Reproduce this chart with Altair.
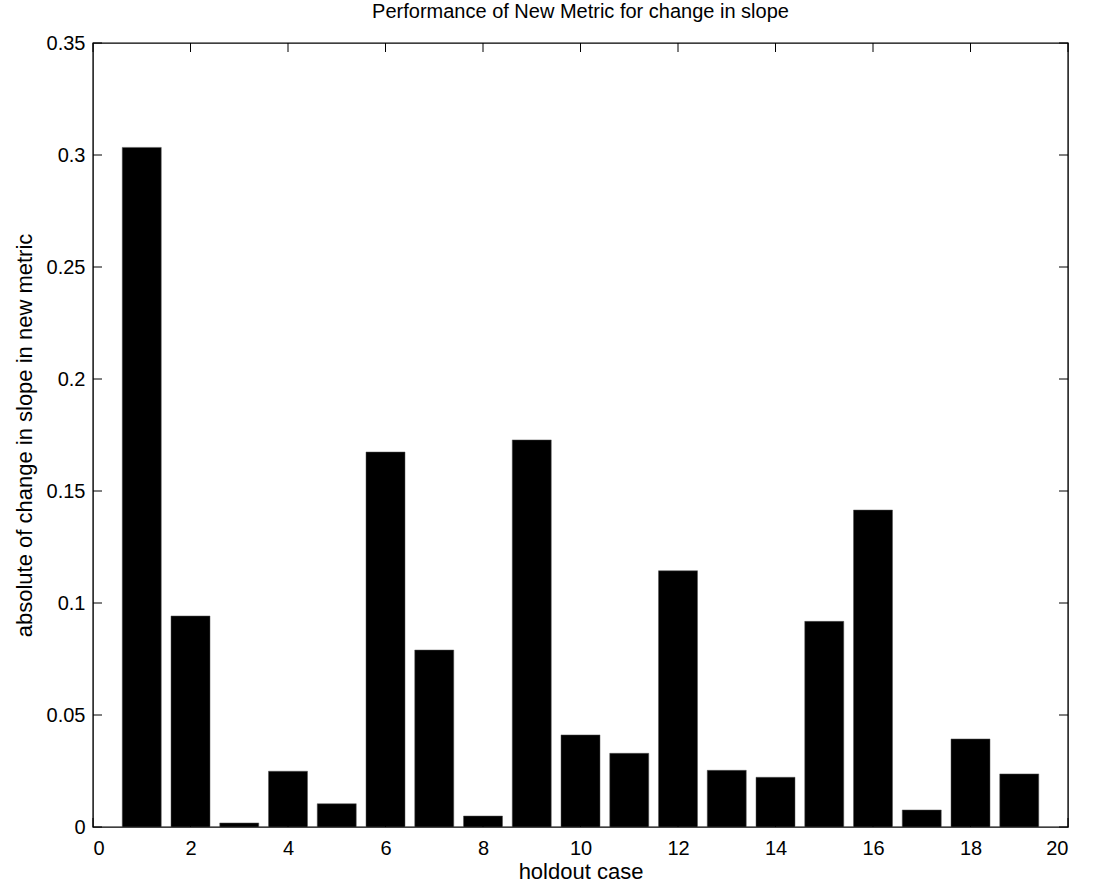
import altair as alt
import pandas as pd

cases = list(range(1, 20))
values = [0.3034, 0.0942, 0.0018, 0.0249, 0.0104, 0.1674, 0.0790, 0.0049, 0.1728,
          0.0411, 0.0329, 0.1144, 0.0253, 0.0222, 0.0918, 0.1415, 0.0076, 0.0393, 0.0237]
x_ticks = list(range(0, 21, 2))
y_ticks = [0, 0.05, 0.1, 0.15, 0.2, 0.25, 0.3, 0.35]

df = pd.DataFrame({"case": cases, "value": values})
xt = pd.DataFrame({"t": x_ticks})
yt = pd.DataFrame({"t": y_ticks})

FONT = "Liberation Sans"
W, H = 975, 784
TICK = 9

xscale = alt.Scale(domain=[0, 20], nice=False, zero=False)
yscale = alt.Scale(domain=[0, 0.35], nice=False)

xaxis = alt.Axis(values=x_ticks, orient="bottom",
                 domain=False, ticks=False, labelPadding=11, labelFontSize=20,
                 labelColor="black", titleFontSize=22, titleFontWeight="normal",
                 titleColor="black", titlePadding=3, grid=False,
                 labelFont=FONT, titleFont=FONT)
yaxis = alt.Axis(values=y_ticks, format="~g",
                 orient="left", domain=False, ticks=False, labelPadding=8,
                 labelFontSize=20, labelColor="black", titleFontSize=22,
                 titleFontWeight="normal", titleColor="black", titlePadding=10,
                 grid=False, labelFont=FONT, titleFont=FONT)
XT = "holdout case"
YT = "absolute of change in slope in new metric"

bars = alt.Chart(df).transform_calculate(
    x0="datum.case - 0.4", x1="datum.case + 0.4"
).mark_rect(color="black", stroke="#555555", strokeWidth=0.5).encode(
    x=alt.X("x0:Q", scale=xscale, axis=xaxis, title=XT),
    x2="x1:Q",
    y=alt.Y("value:Q", scale=yscale, axis=yaxis, title=YT),
    y2=alt.datum(0),
)

tick_style = dict(color="black", strokeWidth=1)
bottom_ticks = alt.Chart(xt).mark_rule(**tick_style).encode(
    x=alt.X("t:Q", scale=xscale, axis=xaxis, title=XT), y=alt.value(H), y2=alt.value(H - TICK))
top_ticks = alt.Chart(xt).mark_rule(**tick_style).encode(
    x=alt.X("t:Q", scale=xscale, axis=xaxis, title=XT), y=alt.value(0), y2=alt.value(TICK))
left_ticks = alt.Chart(yt).mark_rule(**tick_style).encode(
    y=alt.Y("t:Q", scale=yscale, axis=yaxis, title=YT), x=alt.value(0), x2=alt.value(TICK))
right_ticks = alt.Chart(yt).mark_rule(**tick_style).encode(
    y=alt.Y("t:Q", scale=yscale, axis=yaxis, title=YT), x=alt.value(W - TICK), x2=alt.value(W))

chart = alt.layer(bars, bottom_ticks, top_ticks, left_ticks, right_ticks).properties(
    width=W, height=H,
    title=alt.TitleParams("Performance of New Metric for change in slope", fontSize=20,
                          fontWeight="normal", font=FONT, color="black", offset=11),
    autosize=alt.AutoSizeParams(type="none"),
    padding={"left": 93, "top": 43, "right": 38, "bottom": 61},
).configure(background="white").configure_view(stroke="black", strokeWidth=1.4)

chart.save("out.html", embed_options={"renderer": "svg", "actions": False})
